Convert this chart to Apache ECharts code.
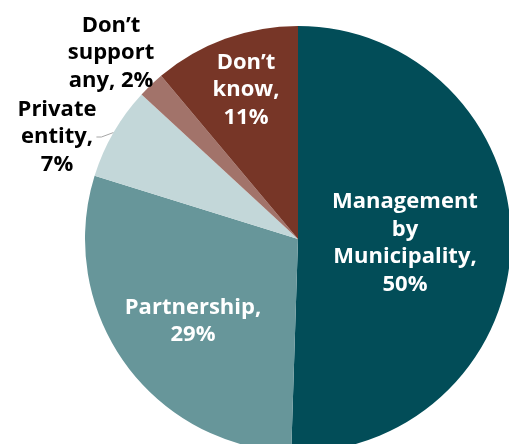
<!DOCTYPE html>
<html><head><meta charset="utf-8">
<script src="https://cdn.jsdelivr.net/npm/echarts@6/dist/echarts.min.js"></script>
<style>html,body{margin:0;padding:0;background:#fff}#c{width:509px;height:444px}</style>
</head><body><div id="c"></div>
<script>
const categories = ['Management\nby\nMunicipality,', 'Partnership,', 'Private\nentity,', 'Don\u2019t\nsupport\nany,', 'Don\u2019t\nknow,'];
const values = [50, 29, 7, 2, 11];
const valueSeparators = ['\n', '\n', '\n', ' ', '\n'];
const colors = ['#024D58', '#67969A', '#C3D7D9', '#A2736A', '#773627'];
const labelColors = ['#fff', '#fff', '#000', '#000', '#fff'];
const labelPos = [[405, 243], [193, 321], [57, 137], [111, 53], [246, 90]];

const chart = echarts.init(document.getElementById('c'));
chart.setOption({
  animation: false,
  series: [{
    type: 'pie',
    center: [298, 239],
    radius: [0, 213],
    startAngle: 90,
    clockwise: true,
    avoidLabelOverlap: false,
    data: categories.map((n, i) => ({
      name: n, value: values[i],
      itemStyle: { color: colors[i] },
      label: { color: labelColors[i] },
      labelLine: { show: i === 2, length: 5, length2: 5, lineStyle: { color: '#A6A6A6', width: 1 } }
    })),
    label: {
      show: true, position: 'outside',
      formatter: p => p.name + valueSeparators[p.dataIndex] + p.value + '%',
      fontFamily: 'Open Sans', fontWeight: 'bold', fontSize: 22, lineHeight: 27.5,
      align: 'center'
    },
    labelLayout: p => ({ x: labelPos[p.dataIndex][0], y: labelPos[p.dataIndex][1], align: 'center', verticalAlign: 'middle' })
  }]
});
</script></body></html>
